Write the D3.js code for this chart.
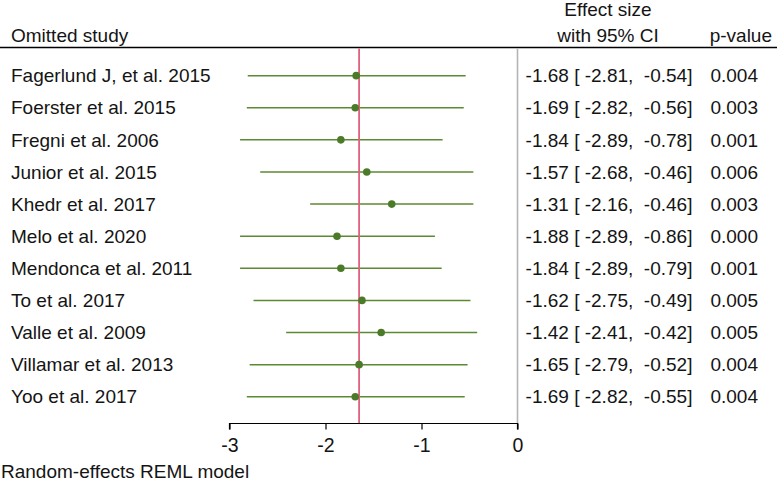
<!DOCTYPE html>
<html>
<head>
<meta charset="utf-8">
<script src="https://cdn.jsdelivr.net/npm/d3@7/dist/d3.min.js"></script>
<style>
  html, body { margin: 0; padding: 0; background: #fff; }
  svg { display: block; }
  text { font-family: "Liberation Sans", Arial, Helvetica, sans-serif; fill: #141414; }
</style>
</head>
<body>
<svg id="chart" width="777" height="484"></svg>
<script>
const studies = [
  "Fagerlund J, et al. 2015",
  "Foerster et al. 2015",
  "Fregni et al. 2006",
  "Junior et al. 2015",
  "Khedr et al. 2017",
  "Melo et al. 2020",
  "Mendonca et al. 2011",
  "To et al. 2017",
  "Valle et al. 2009",
  "Villamar et al. 2013",
  "Yoo et al. 2017"
];
const effect = [-1.68, -1.69, -1.84, -1.57, -1.31, -1.88, -1.84, -1.62, -1.42, -1.65, -1.69];
const lower  = [-2.81, -2.82, -2.89, -2.68, -2.16, -2.89, -2.89, -2.75, -2.41, -2.79, -2.82];
const upper  = [-0.54, -0.56, -0.78, -0.46, -0.46, -0.86, -0.79, -0.49, -0.42, -0.52, -0.55];
const pvalues = ["0.004", "0.003", "0.001", "0.006", "0.003", "0.000", "0.001", "0.005", "0.005", "0.004", "0.004"];
const overall = -1.65;
const xTicks = [-3, -2, -1, 0];

const svg = d3.select("#chart");
const FS = 19;

const x = d3.scaleLinear().domain([-3, 0]).range([229.5, 517.5]);
const y = d3.scaleBand().domain(studies).range([59.6, 412.8]);
const yc = s => y(s) + y.bandwidth() / 2;

const headerY = 47.5;
const axisY = 423.5;

// header texts
svg.append("text").attr("x", 11).attr("y", 42).attr("font-size", FS).text("Omitted study");
svg.append("text").attr("x", 608).attr("y", 16).attr("font-size", FS).attr("text-anchor", "middle").text("Effect size");
svg.append("text").attr("x", 608).attr("y", 42).attr("font-size", FS).attr("text-anchor", "middle").text("with 95% CI");
svg.append("text").attr("x", 772).attr("y", 42).attr("font-size", FS).attr("text-anchor", "end").text("p-value");

// header rule
svg.append("line").attr("x1", 0).attr("x2", 777).attr("y1", headerY).attr("y2", headerY)
  .attr("stroke", "#000").attr("stroke-width", 1.6);

// no-effect (zero) line
svg.append("line").attr("x1", x(0)).attr("x2", x(0)).attr("y1", headerY + 1).attr("y2", axisY)
  .attr("stroke", "#b4b4b4").attr("stroke-width", 1.6);

// CI lines
svg.append("g").selectAll("line").data(studies).join("line")
  .attr("x1", (d, i) => x(lower[i])).attr("x2", (d, i) => x(upper[i]))
  .attr("y1", d => yc(d)).attr("y2", d => yc(d))
  .attr("stroke", "#5b8a32").attr("stroke-width", 1.5);

// overall line
svg.append("line").attr("x1", x(overall)).attr("x2", x(overall)).attr("y1", headerY + 1).attr("y2", axisY)
  .attr("stroke", "#e0607e").attr("stroke-width", 1.8);

// points
svg.append("g").selectAll("circle").data(studies).join("circle")
  .attr("cx", (d, i) => x(effect[i])).attr("cy", d => yc(d)).attr("r", 3.8)
  .attr("fill", "#4b7a28");

// study labels
svg.append("g").selectAll("text").data(studies).join("text")
  .attr("x", 11).attr("y", d => yc(d)).attr("dy", "0.35em").attr("font-size", FS)
  .text(d => d);

// effect text (hyphen-minus as in the original)
const f2 = v => v.toFixed(2);
svg.append("g").selectAll("text").data(studies).join("text")
  .attr("x", 609).attr("y", d => yc(d)).attr("dy", "0.35em").attr("font-size", FS)
  .attr("text-anchor", "middle").attr("xml:space", "preserve")
  .style("white-space", "pre")
  .text((d, i) => `${f2(effect[i])} [ ${f2(lower[i])},  ${f2(upper[i])}]`);

svg.append("g").selectAll("text").data(studies).join("text")
  .attr("x", 758).attr("y", d => yc(d)).attr("dy", "0.35em").attr("font-size", FS)
  .attr("text-anchor", "end")
  .text((d, i) => pvalues[i]);

// axis
const axis = d3.axisBottom(x).tickValues(xTicks).tickSize(6).tickPadding(9).tickFormat(d => String(d));
const ag = svg.append("g").attr("transform", `translate(0,${axisY})`).call(axis);
ag.select(".domain").attr("stroke", "#000").attr("stroke-width", 1.2).attr("d", `M${x(-3)},6V0H${x(0)}V6`);
ag.selectAll(".tick line").attr("stroke", "#000").attr("stroke-width", 1.2);
ag.selectAll(".tick text").attr("font-size", FS + 0.5).attr("fill", "#141414")
  .attr("font-family", '"Liberation Sans", Arial, sans-serif');

svg.append("text").attr("x", 1).attr("y", 478).attr("font-size", FS).text("Random-effects REML model");
</script>
</body>
</html>
